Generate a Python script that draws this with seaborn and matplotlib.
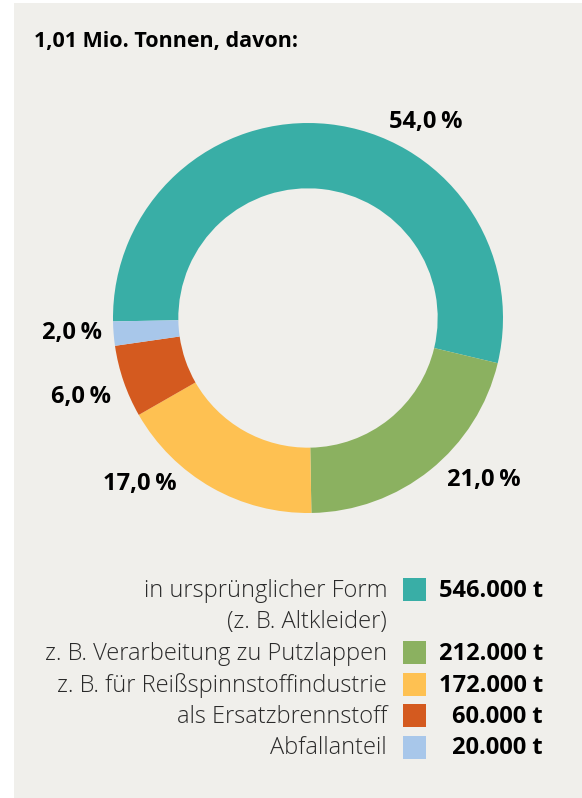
import matplotlib.pyplot as plt
import matplotlib.patches as mpatches
import seaborn as sns

# Daten
categories = ["in ursprünglicher Form\n(z. B. Altkleider)",
              "z. B. Verarbeitung zu Putzlappen",
              "z. B. für Reißspinnstoffindustrie",
              "als Ersatzbrennstoff",
              "Abfallanteil"]
tonnen = [546000, 212000, 172000, 60000, 20000]
anteile = [54.0, 21.0, 17.0, 6.0, 2.0]
farben = ["#39aea6", "#8bb160", "#fec152", "#d45a1f", "#a8c7ea"]
titel = "1,01 Mio. Tonnen, davon:"

sns.set_theme(style="white")
plt.rcParams['font.family'] = ['Open Sans', 'DejaVu Sans']

W, H = 582, 798
fig = plt.figure(figsize=(W / 100, H / 100), dpi=100, facecolor="white")


def px(x, y):
    return x / W, 1 - y / H


# grauer Hintergrund (hinter allem)
fig.patches.append(mpatches.Rectangle(px(14, 798), (W - 14) / W, 795 / H,
                                      transform=fig.transFigure, facecolor="#f0efeb",
                                      edgecolor="none", zorder=-5))

fig.text(*px(34, 47), titel, fontsize=15.5, fontweight="bold", color="black",
         ha="left", va="baseline")

# Ring
cx, cy, r = 308, 318, 195
ax = fig.add_axes([(cx - r) / W, 1 - (cy + r) / H, 2 * r / W, 2 * r / H])
ax.set_zorder(1)
ax.patch.set_alpha(0)
ax.pie(anteile, colors=sns.color_palette(farben), startangle=181, counterclock=False,
       wedgeprops=dict(width=0.335, edgecolor="none"), radius=1)
ax.set_xlim(-1, 1)
ax.set_ylim(-1, 1)
ax.set_aspect("equal")
ax.axis("off")

# Prozentbeschriftungen
label_pos = [(426, 128), (484, 486), (140, 490), (81, 403), (72, 339)]
for a, (x, y) in zip(anteile, label_pos):
    txt = f"{a:.1f}".replace(".", ",") + "\u2009%"
    fig.text(*px(x, y), txt, fontsize=17, fontweight="bold", color="black",
             ha="center", va="baseline")

# Legende
row = 0
y0, dy = 597, 31.5
for cat, t, c in zip(categories, tonnen, farben):
    lines = cat.split("\n")
    yb = y0 + row * dy
    fig.patches.append(mpatches.Rectangle(px(403, yb + 4), 23 / W, 23 / H,
                                          transform=fig.transFigure, facecolor=c,
                                          edgecolor="none"))
    wert = f"{t:,}".replace(",", ".") + " t"
    fig.text(*px(543, yb), wert, fontsize=17, fontweight="bold", color="black",
             ha="right", va="baseline")
    for line in lines:
        fig.text(*px(387, y0 + row * dy), line, fontsize=17, fontweight=300,
                 color="#2a2a2a", ha="right", va="baseline")
        row += 1

fig.savefig("out.png", dpi=100, facecolor="white")
